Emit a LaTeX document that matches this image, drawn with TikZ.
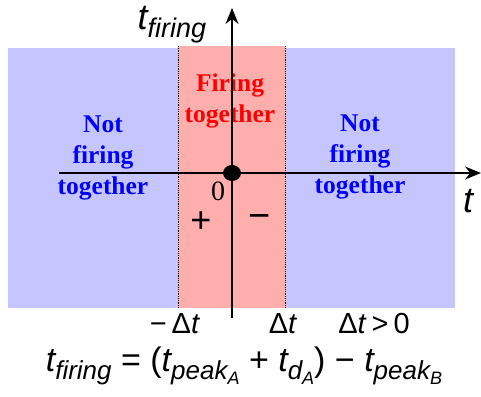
\documentclass[tikz,border=0pt]{standalone}
\usepackage{fontspec}
\setmainfont{Liberation Serif}
\newfontfamily\ars{Liberation Sans}
\usetikzlibrary{arrows.meta, shapes.geometric}
\definecolor{nfblue}{RGB}{197,197,255}
\definecolor{fpink}{RGB}{255,174,174}
% italic t with an italic index, sans
\newcommand{\tix}[2]{{\ars\itshape t\raisebox{-0.22em}{\fontsize{#2}{#2}\selectfont #1}}}
\newcommand{\sidx}[2]{#1\raisebox{-0.22em}{\fontsize{18}{18}\selectfont #2}}
\begin{document}
\begin{tikzpicture}[x=1pt, y=-1pt,
  region/.style={font=\fontsize{25.5}{31}\selectfont\bfseries, align=center},
  lbl/.style={font=\ars\fontsize{29}{29}\selectfont},
  axis/.style={line width=1.4pt, -{Stealth[length=16pt, width=13pt]}},
  bound/.style={densely dotted, line width=0.8pt}
]
  \useasboundingbox (0,0) rectangle (481,396);

  % --- regions ---
  \fill[nfblue] (8,48) rectangle (455,308);
  \fill[fpink] (178,46) rectangle (285,308);
  \draw[bound] (178,46) -- (178,308);
  \draw[bound] (285,46) -- (285,308);

  \node[region, text=blue] (nfl) at (103,158) {Not\\firing\\together};
  \node[region, text=blue] (nfr) at (360,157) {Not\\firing\\together};
  \node[region, text=red] (ft) at (230,101) {Firing\\together};

  % --- axes ---
  \coordinate (xs) at (59,173);
  \coordinate (xe) at (481,173);
  \coordinate (ys) at (232,318);
  \coordinate (ye) at (232,8);
  \draw[axis] (xs) -- (xe);
  \draw[axis] (ys) -- (ye);
  \node[fill, ellipse, minimum width=18pt, minimum height=16pt, inner sep=0pt] (orig) at (232,173) {};

  \node[font=\fontsize{28}{28}\selectfont] (zero) at (218,191) {0};
  \node[font=\ars\fontsize{36}{36}\selectfont] (plus) at (201,222) {+};
  \node[font=\ars\fontsize{38}{38}\selectfont] (minus) at (260,222) {−};
  \node[font=\ars\itshape\fontsize{36}{36}\selectfont] (tlab) at (468,201) {t};
  \node (tflab) at (172,25) {\fontsize{36}{36}\selectfont\tix{firing}{27}};

  % --- bounds ---
  \node[lbl] (mdt) at (175,324) {−\,Δ\textit{t}};
  \node[lbl] (pdt) at (283,324) {Δ\textit{t}};
  \node[lbl] (cond) at (374,324) {Δ\textit{t}\hspace{5pt}>\hspace{5pt}0};

  % --- formula ---
  \node[font=\ars\fontsize{34}{34}\selectfont] (form) at (244,366)
    {\tix{firing}{26} = (\tix{\sidx{peak}{A}}{26} + \tix{\sidx{d}{A}}{26}) − \tix{\sidx{peak}{B}}{26}};
\end{tikzpicture}
\end{document}
